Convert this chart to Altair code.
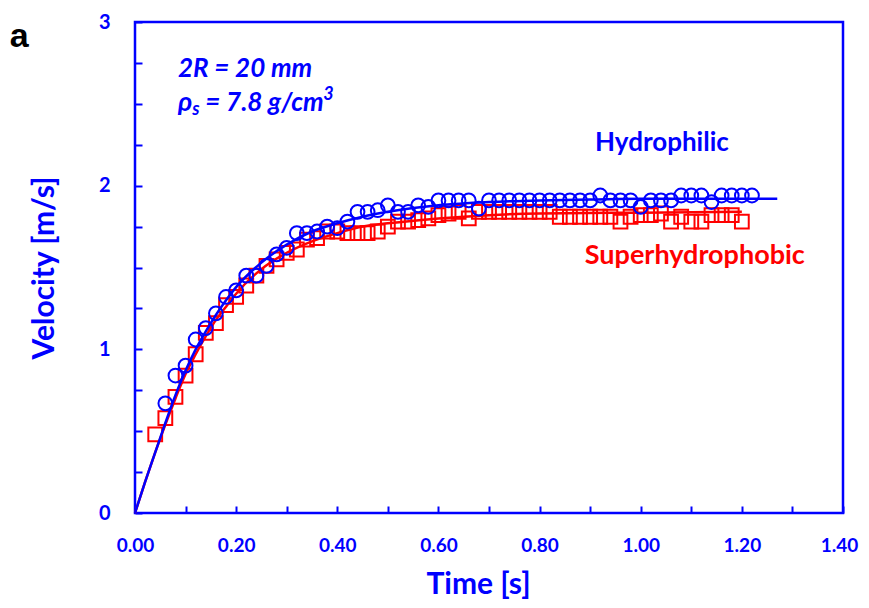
import altair as alt
import pandas as pd

BLUE = "#0000FF"
RED = "#FF0000"
FONT = "Lato"

# Hydrophilic measurements (circles)
t_hydro = [0.06, 0.08, 0.10, 0.12, 0.14, 0.16, 0.18, 0.20, 0.22, 0.24,
           0.26, 0.28, 0.30, 0.32, 0.34, 0.36, 0.38, 0.40, 0.42, 0.44,
           0.46, 0.48, 0.50, 0.52, 0.54, 0.56, 0.58, 0.60, 0.62, 0.64,
           0.66, 0.68, 0.70, 0.72, 0.74, 0.76, 0.78, 0.80, 0.82, 0.84,
           0.86, 0.88, 0.90, 0.92, 0.94, 0.96, 0.98, 1.00, 1.02, 1.04,
           1.06, 1.08, 1.10, 1.12, 1.14, 1.16, 1.18, 1.20, 1.22]
v_hydro = [0.67, 0.84, 0.90, 1.06, 1.13, 1.22, 1.32, 1.36, 1.45, 1.45,
           1.51, 1.58, 1.62, 1.71, 1.71, 1.72, 1.75, 1.74, 1.78, 1.84,
           1.84, 1.85, 1.88, 1.84, 1.84, 1.88, 1.87, 1.91, 1.91, 1.91,
           1.91, 1.86, 1.91, 1.91, 1.91, 1.91, 1.91, 1.91, 1.91, 1.91,
           1.91, 1.91, 1.91, 1.94, 1.91, 1.91, 1.91, 1.87, 1.91, 1.91,
           1.91, 1.94, 1.94, 1.94, 1.90, 1.94, 1.94, 1.94, 1.94]

# Superhydrophobic measurements (squares)
t_super = [0.04, 0.06, 0.08, 0.10, 0.12, 0.14, 0.16, 0.18, 0.20, 0.22,
           0.24, 0.26, 0.28, 0.30, 0.32, 0.34, 0.36, 0.38, 0.40, 0.42,
           0.44, 0.46, 0.48, 0.50, 0.52, 0.54, 0.56, 0.58, 0.60, 0.62,
           0.64, 0.66, 0.68, 0.70, 0.72, 0.74, 0.76, 0.78, 0.80, 0.82,
           0.84, 0.86, 0.88, 0.90, 0.92, 0.94, 0.96, 0.98, 1.00, 1.02,
           1.04, 1.06, 1.08, 1.10, 1.12, 1.14, 1.16, 1.18, 1.20]
v_super = [0.48, 0.58, 0.71, 0.84, 0.97, 1.10, 1.16, 1.27, 1.32, 1.39,
           1.45, 1.51, 1.55, 1.59, 1.61, 1.67, 1.68, 1.72, 1.72, 1.71,
           1.71, 1.71, 1.72, 1.75, 1.78, 1.78, 1.79, 1.80, 1.82, 1.83,
           1.84, 1.80, 1.84, 1.84, 1.84, 1.84, 1.84, 1.84, 1.84, 1.84,
           1.81, 1.81, 1.81, 1.81, 1.81, 1.81, 1.78, 1.81, 1.82, 1.82,
           1.83, 1.78, 1.81, 1.78, 1.78, 1.82, 1.82, 1.82, 1.78]

# Fitted curves
t_fit_h = [0.0, 0.02, 0.04, 0.06, 0.08, 0.10, 0.12, 0.14, 0.16, 0.18, 0.20,
           0.25, 0.30, 0.35, 0.40, 0.45, 0.50, 0.60, 0.70, 0.80, 0.90, 1.00, 1.27]
v_fit_h = [0.0, 0.19, 0.37, 0.55, 0.72, 0.87, 1.00, 1.11, 1.21, 1.30, 1.38,
           1.53, 1.64, 1.72, 1.77, 1.81, 1.84, 1.88, 1.90, 1.91, 1.915, 1.92, 1.92]
t_fit_s = [0.0, 0.02, 0.04, 0.06, 0.08, 0.10, 0.12, 0.14, 0.16, 0.18, 0.20,
           0.25, 0.30, 0.35, 0.40, 0.45, 0.50, 0.60, 0.70, 0.80, 1.00, 1.20]
v_fit_s = [0.0, 0.19, 0.37, 0.54, 0.70, 0.85, 0.97, 1.08, 1.18, 1.26, 1.34,
           1.49, 1.59, 1.66, 1.71, 1.75, 1.77, 1.80, 1.82, 1.83, 1.835, 1.84]

x_ticks = [0.0, 0.1, 0.2, 0.3, 0.4, 0.5, 0.6, 0.7, 0.8, 0.9, 1.0, 1.1, 1.2, 1.3, 1.4]
y_ticks = [0, 0.25, 0.5, 0.75, 1, 1.25, 1.5, 1.75, 2, 2.25, 2.5, 2.75, 3]

df_h = pd.DataFrame({"t": t_hydro, "v": v_hydro})
df_s = pd.DataFrame({"t": t_super, "v": v_super})
df_fh = pd.DataFrame({"t": t_fit_h, "v": v_fit_h})
df_fs = pd.DataFrame({"t": t_fit_s, "v": v_fit_s})

xscale = alt.Scale(domain=[0, 1.4], nice=False, zero=False)
yscale = alt.Scale(domain=[0, 3], nice=False, zero=False)

xaxis = alt.Axis(
    title="Time [s]", values=x_ticks,
    labelExpr="round(datum.value*10) % 2 == 0 ? format(datum.value, '.2f') : ''",
    labelOffset={"condition": {"test": "datum.value > 1.35", "value": -4}, "value": 0},
    grid=False, domain=False, offset=-7, tickSize=7, tickWidth=2,
    tickColor=BLUE, labelColor=BLUE, labelFont=FONT, labelFontSize=19,
    labelFontWeight="bold", labelPadding=23, titleColor=BLUE,
    titleFont=FONT, titleFontSize=30, titleFontWeight="bold",
    titlePadding=14, titleX=343, labelFlush=False, labelOverlap=False,
)
yaxis = alt.Axis(
    title="Velocity [m/s]", values=y_ticks,
    labelExpr="datum.value % 1 == 0 ? format(datum.value, 'd') : ''",
    grid=False, domain=False, offset=-7, tickSize=7, tickWidth=2,
    tickColor=BLUE, labelColor=BLUE, labelFont=FONT, labelFontSize=20,
    labelFontWeight="bold", labelPadding=25, titleColor=BLUE,
    titleFont=FONT, titleFontSize=30, titleFontWeight="bold",
    titlePadding=39, labelFlush=False, labelOverlap=False,
)

x = alt.X("t:Q", scale=xscale, axis=xaxis)
y = alt.Y("v:Q", scale=yscale, axis=yaxis)

squares = alt.Chart(df_s).mark_point(
    shape="square", size=190, filled=False, color=RED, strokeWidth=2, opacity=1
).encode(x=x, y=y)
line_s = alt.Chart(df_fs).mark_line(color=RED, strokeWidth=2.5, interpolate="monotone").encode(x=x, y=y)
circles = alt.Chart(df_h).mark_point(
    shape="circle", size=190, filled=False, color=BLUE, strokeWidth=2, opacity=1
).encode(x=x, y=y)
line_h = alt.Chart(df_fh).mark_line(color=BLUE, strokeWidth=2.5, interpolate="monotone").encode(x=x, y=y)

# Annotations
t1 = alt.Chart(pd.DataFrame({"t": [0.085], "v": [2.661], "label": ["2R = 20 mm"]})).mark_text(
    font=FONT, fontSize=26, fontWeight="bold", fontStyle="italic",
    align="left", baseline="alphabetic", color=BLUE
).encode(x=x, y=y, text="label:N")
t2 = alt.Chart(pd.DataFrame({"t": [1.042], "v": [2.26], "label": ["Hydrophilic"]})).mark_text(
    font=FONT, fontSize=26, fontWeight="bold", align="center",
    baseline="middle", color=BLUE
).encode(x=x, y=y, text="label:N")
t3 = alt.Chart(pd.DataFrame({"t": [1.107], "v": [1.57], "label": ["Superhydrophobic"]})).mark_text(
    font=FONT, fontSize=27, fontWeight="bold", align="center",
    baseline="middle", color=RED
).encode(x=x, y=y, text="label:N")

rho = pd.DataFrame({
    "t": [0.085, 0.113, 0.139, 0.372],
    "v": [2.458, 2.43, 2.458, 2.523],
    "label": ["ρ", "s", "= 7.8 g/cm", "3"],
    "size": [27, 18, 26, 18],
})
t_rho = alt.Chart(rho).mark_text(
    font=FONT, fontWeight="bold", fontStyle="italic", align="left",
    baseline="alphabetic", color=BLUE
).encode(x=x, y=y, text="label:N",
         size=alt.Size("size:Q", scale=None, legend=None))

panel = pd.DataFrame({"t": [-0.229], "v": [2.908], "label": ["a"]})
t_a = alt.Chart(panel).mark_text(
    font="Liberation Sans", fontSize=34, fontWeight="bold", align="center",
    baseline="middle", color="black"
).encode(x=x, y=y, text="label:N")

chart = alt.layer(
    squares, line_s, circles, line_h, t1, t2, t3, t_rho, t_a
).properties(
    width=708, height=491,
    autosize=alt.AutoSizeParams(type="none"),
    padding={"left": 127, "top": 14, "right": 18, "bottom": 88},
).configure_view(
    stroke=BLUE, strokeWidth=2.5
)

chart.save("out.html", embed_options={"renderer": "svg", "actions": False})
